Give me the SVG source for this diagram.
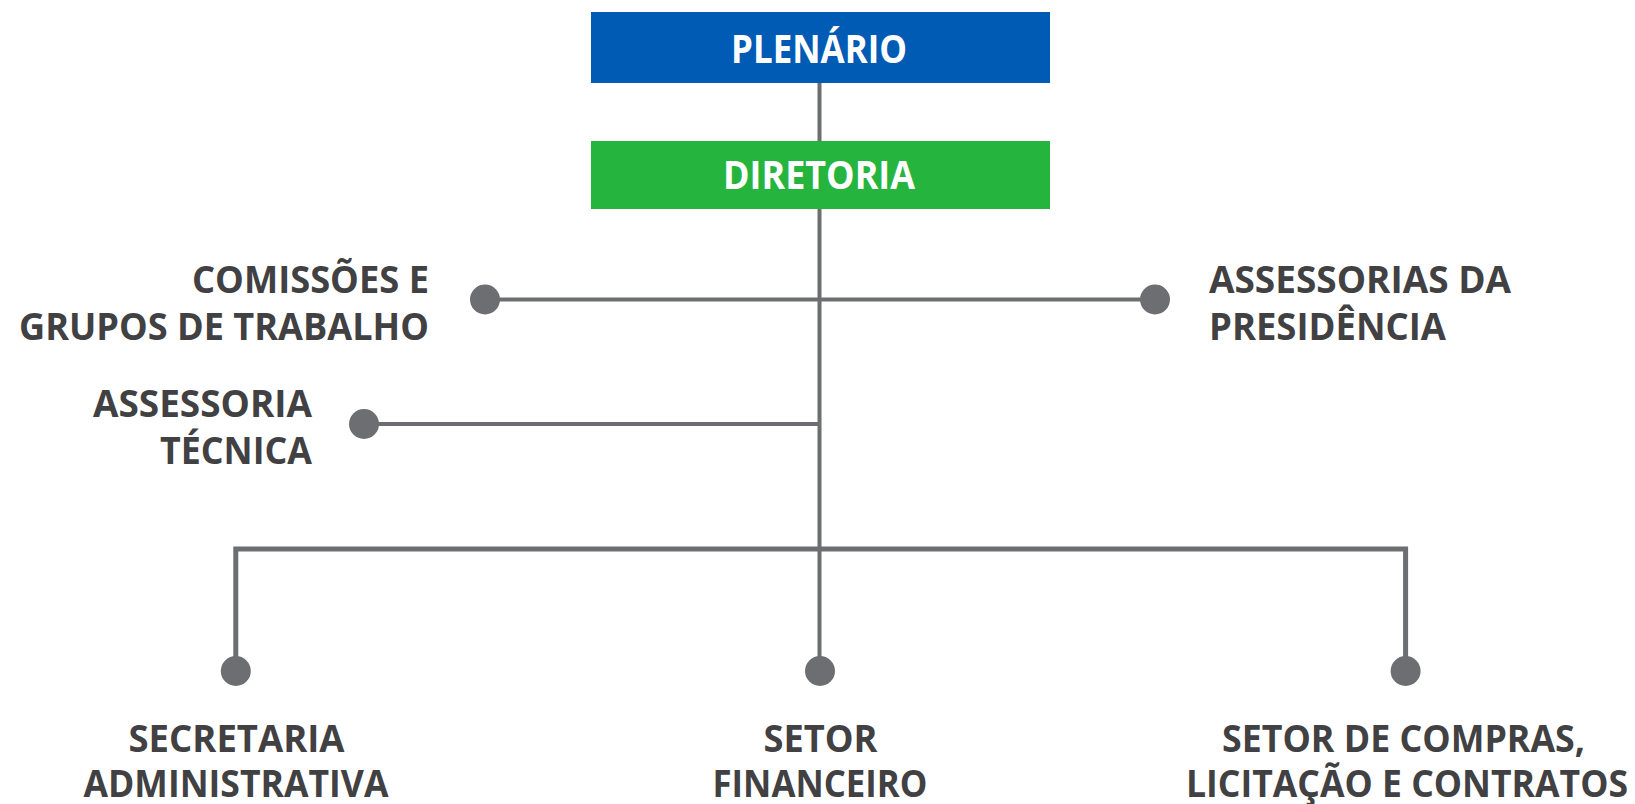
<svg xmlns="http://www.w3.org/2000/svg" width="1635" height="804" viewBox="0 0 1635 804">
<style>
.lbl{font-family:"Open Sans","Noto Sans","DejaVu Sans",sans-serif;font-weight:700;font-size:38px;fill:#414042}
.head{font-family:"Open Sans","Noto Sans","DejaVu Sans",sans-serif;font-weight:700;font-size:40px;fill:#ffffff}
.ln{stroke:#6d6e71;stroke-width:4;fill:none}
.dot{fill:#6d6e71}
</style>
<rect width="1635" height="804" fill="#ffffff"/>
<g id="connectors">
<line class="ln" x1="819.5" y1="83" x2="819.5" y2="141"/>
<line class="ln" x1="819.5" y1="209" x2="819.5" y2="671"/>
<line class="ln" x1="485" y1="299.5" x2="1155" y2="299.5"/>
<line class="ln" x1="364" y1="424" x2="819.5" y2="424"/>
<path class="ln" style="stroke-width:5" d="M235.8 671 V549 H1405.6 V671"/>
</g>
<g id="plenario">
<rect x="591" y="12" width="459" height="71" fill="#005bb5"/>
<text class="head" x="819" y="62.5" text-anchor="middle" textLength="176" lengthAdjust="spacingAndGlyphs">PLENÁRIO</text>
</g>
<g id="diretoria">
<rect x="591" y="141" width="459" height="68" fill="#25b53f"/>
<text class="head" x="819" y="188.5" text-anchor="middle" textLength="192" lengthAdjust="spacingAndGlyphs">DIRETORIA</text>
</g>
<g id="comissoes">
<circle class="dot" cx="485" cy="299.5" r="15"/>
<text class="lbl" x="429" y="293" text-anchor="end" textLength="237" lengthAdjust="spacingAndGlyphs">COMISSÕES E</text>
<text class="lbl" x="429" y="339.5" text-anchor="end" textLength="410" lengthAdjust="spacingAndGlyphs">GRUPOS DE TRABALHO</text>
</g>
<g id="assessorias-presidencia">
<circle class="dot" cx="1155" cy="299.5" r="15"/>
<text class="lbl" x="1209" y="293" textLength="302" lengthAdjust="spacingAndGlyphs">ASSESSORIAS DA</text>
<text class="lbl" x="1209" y="339.5" textLength="237" lengthAdjust="spacingAndGlyphs">PRESIDÊNCIA</text>
</g>
<g id="assessoria-tecnica">
<circle class="dot" cx="364" cy="424" r="15"/>
<text class="lbl" x="312" y="416.5" text-anchor="end" textLength="219" lengthAdjust="spacingAndGlyphs">ASSESSORIA</text>
<text class="lbl" x="312" y="463.5" text-anchor="end" textLength="152" lengthAdjust="spacingAndGlyphs">TÉCNICA</text>
</g>
<g id="secretaria">
<circle class="dot" cx="235.8" cy="671" r="15"/>
<text class="lbl" x="236.5" y="751.5" text-anchor="middle" textLength="216" lengthAdjust="spacingAndGlyphs">SECRETARIA</text>
<text class="lbl" x="236" y="797" text-anchor="middle" textLength="305" lengthAdjust="spacingAndGlyphs">ADMINISTRATIVA</text>
</g>
<g id="financeiro">
<circle class="dot" cx="820" cy="671" r="15"/>
<text class="lbl" x="820.5" y="751.5" text-anchor="middle" textLength="114" lengthAdjust="spacingAndGlyphs">SETOR</text>
<text class="lbl" x="820" y="797" text-anchor="middle" textLength="215" lengthAdjust="spacingAndGlyphs">FINANCEIRO</text>
</g>
<g id="compras">
<circle class="dot" cx="1405.6" cy="671" r="15"/>
<text class="lbl" x="1403.5" y="751.5" text-anchor="middle" textLength="363" lengthAdjust="spacingAndGlyphs">SETOR DE COMPRAS,</text>
<text class="lbl" x="1407" y="797" text-anchor="middle" textLength="442" lengthAdjust="spacingAndGlyphs">LICITAÇÃO E CONTRATOS</text>
</g>
</svg>
